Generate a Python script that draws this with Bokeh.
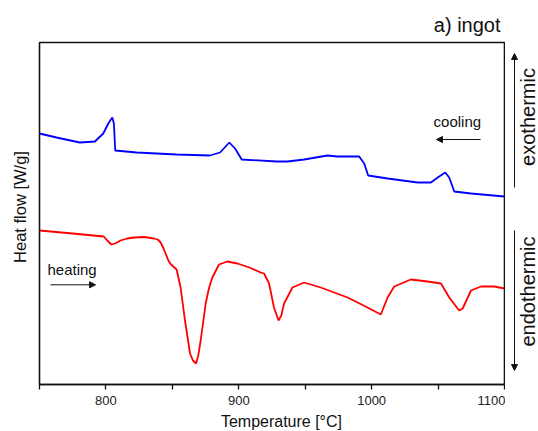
import math
from bokeh.plotting import figure
from bokeh.layouts import row, column
from bokeh.models import Range1d, FixedTicker, Label, Arrow, NormalHead
from bokeh.embed import file_html
from bokeh.resources import INLINE

# ---- data ----
cool_T = [750.0, 762.8, 780.4, 791.7, 798.0, 801.8, 804.8, 806.0, 807.0, 823.1,
          853.2, 878.3, 885.9, 892.9, 897.2, 902.2, 928.6, 936.6, 949.2, 966.8,
          974.3, 990.6, 994.4, 997.4, 1012.0, 1034.6, 1044.6, 1049.7, 1055.4,
          1058.4, 1062.2, 1074.8, 1100.0]
cool_v = [2.50, 2.46, 2.41, 2.42, 2.50, 2.60, 2.66, 2.60, 2.33, 2.31,
          2.29, 2.28, 2.31, 2.41, 2.35, 2.24, 2.22, 2.22, 2.24, 2.28,
          2.27, 2.27, 2.20, 2.08, 2.05, 2.01, 2.01, 2.06, 2.11,
          2.06, 1.92, 1.90, 1.87]

heat_T = [750.0, 775.0, 798.4, 801.0, 804.0, 807.0, 811.0, 816.0, 821.1, 829.0,
          836.1, 839.0, 841.2, 843.0, 844.9, 847.0, 849.0, 853.2, 856.2, 859.5,
          863.3, 865.5, 867.8, 869.5, 871.3, 875.1, 877.5, 880.1, 885.1, 891.4,
          899.0, 908.0, 916.5, 919.0, 922.8, 926.5, 929.9, 932.0, 934.1, 940.4,
          949.2, 961.7, 981.9, 996.9, 1006.9, 1012.0, 1017.0, 1029.5, 1042.1,
          1052.2, 1058.4, 1065.9, 1068.5, 1074.8, 1082.3, 1092.3, 1100.0]
heat_v = [1.53, 1.50, 1.47, 1.43, 1.39, 1.40, 1.43, 1.45, 1.46, 1.465,
          1.45, 1.44, 1.41, 1.36, 1.30, 1.23, 1.19, 1.14, 0.96, 0.63,
          0.30, 0.23, 0.20, 0.28, 0.43, 0.80, 0.95, 1.06, 1.19, 1.22,
          1.20, 1.16, 1.11, 1.10, 1.00, 0.76, 0.63, 0.68, 0.80, 0.96,
          1.01, 0.96, 0.86, 0.76, 0.69, 0.86, 0.97, 1.04, 1.02,
          1.00, 0.86, 0.73, 0.75, 0.93, 0.97, 0.97, 0.95]

x_ticks = [750, 800, 850, 900, 950, 1000, 1050, 1100]
x_tick_labels = {750: "", 800: "800", 850: "", 900: "900", 950: "",
                 1000: "1000", 1050: "", 1100: "1100"}

FONT = "Liberation Sans"
INK = "#111111"

# ---- main plot ----
p = figure(width=467, height=410, output_backend="svg", toolbar_location=None,
           x_range=Range1d(750, 1100), y_range=Range1d(-0.01, 3.41),
           y_axis_location=None,
           min_border_left=1, min_border_right=1, min_border_top=42,
           min_border_bottom=26)
p.background_fill_color = "white"
p.border_fill_color = "white"
p.outline_line_color = INK
p.outline_line_width = 1.6
p.xgrid.visible = False
p.ygrid.visible = False

p.title.text = "a) ingot"
p.title.align = "right"
p.title.offset = 4
p.title.standoff = 14
p.title.text_font = FONT
p.title.text_font_size = "20px"
p.title.text_font_style = "normal"
p.title.text_color = INK

ax = p.xaxis[0]
ax.ticker = FixedTicker(ticks=x_ticks)
ax.major_label_overrides = {k: v for k, v in x_tick_labels.items()}
ax.axis_line_color = INK
ax.axis_line_width = 1.6
ax.major_tick_line_color = INK
ax.major_tick_line_width = 1.3
ax.major_tick_out = 5
ax.major_tick_in = 0
ax.minor_tick_line_color = None
ax.major_label_standoff = 6
ax.major_label_text_font = FONT
ax.major_label_text_font_size = "13px"
ax.major_label_text_color = "#222222"

p.line(cool_T, cool_v, line_color="#0000ff", line_width=1.8)
p.line(heat_T, heat_v, line_color="#ff0000", line_width=1.8)


def lab(fig, x, y, text, size, align="left", angle=0.0):
    fig.add_layout(Label(x=x, y=y, text=text, text_font=FONT,
                         text_font_size=size, text_color=INK,
                         text_align=align, text_baseline="middle", angle=angle))


def arr(fig, x0, y0, x1, y1, size=6):
    fig.add_layout(Arrow(end=NormalHead(size=size, fill_color=INK,
                                        line_color=INK, line_width=1),
                         x_start=x0, y_start=y0, x_end=x1, y_end=y1,
                         line_color=INK, line_width=1))


lab(p, 1046.6, 2.62, "cooling", "15px")
lab(p, 756.0, 1.145, "heating", "15px")
arr(p, 1082.0, 2.44, 1048.8, 2.44)
arr(p, 758.3, 0.987, 792.2, 0.987)


# ---- margin strips (pixel coordinates, y downward) ----
def strip(w, h):
    f = figure(width=w, height=h, output_backend="svg", toolbar_location=None,
               x_range=Range1d(0, w), y_range=Range1d(h, 0),
               x_axis_location=None, y_axis_location=None, min_border=0)
    f.outline_line_color = None
    f.background_fill_color = "white"
    f.border_fill_color = "white"
    f.xgrid.visible = False
    f.ygrid.visible = False
    return f


left = strip(38, 431)
lab(left, 19, 206.5, "Heat flow [W/g]", "16.5px", align="center", angle=math.pi / 2)

bottom = strip(467, 21)
lab(bottom, 243, 11, "Temperature [°C]", "16px", align="center")

right = strip(33, 431)
lab(right, 22.5, 116.5, "exothermic", "20px", align="center", angle=math.pi / 2)
lab(right, 22.5, 291, "endothermic", "20px", align="center", angle=math.pi / 2)
arr(right, 9, 187, 9, 53)
arr(right, 9, 230, 9, 370)

layout = row(left, column(p, bottom, spacing=0), right, spacing=0)

open("out.html", "w").write(file_html(layout, INLINE))
